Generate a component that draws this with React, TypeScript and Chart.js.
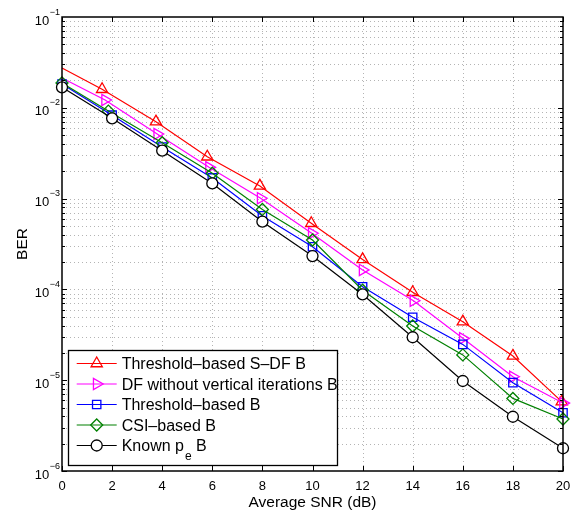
import React, { useEffect, useRef } from "react";
import { Chart, registerables } from "chart.js";

Chart.register(...registerables);

// ---- data ----
const snrRed = [0, 1.6, 3.75, 5.8, 7.9, 9.95, 12, 14, 16, 18, 19.95];
const berRed = [0.0274, 0.016, 0.00703, 0.00289, 0.00138, 5.35e-4, 2.14e-4, 9.3e-5, 4.41e-5, 1.85e-5, 5.8e-6];

const snrPink = [0, 1.72, 3.8, 5.87, 7.93, 9.97, 12, 14.03, 16, 18, 20];
const berPink = [0.0213, 0.0122, 0.00514, 0.00221, 0.00101, 4.15e-4, 1.64e-4, 7.5e-5, 2.89e-5, 1.09e-5, 5.6e-6];

const snrBlue = [0, 2, 4, 6, 8, 10, 12, 14, 16, 18, 20];
const berBlue = [0.0183, 0.0083, 0.0037, 0.00169, 6.45e-4, 2.95e-4, 1.07e-4, 4.93e-5, 2.48e-5, 9.4e-6, 4.38e-6];

const snrGreen = [0, 1.85, 4, 6, 8, 10, 12, 14, 16, 18, 20];
const berGreen = [0.0188, 0.0092, 0.00413, 0.0019, 7.6e-4, 3.5e-4, 9.8e-5, 3.95e-5, 1.9e-5, 6.3e-6, 3.74e-6];

const snrBlack = [0, 2, 4, 6, 8, 10, 12, 14, 16, 18, 20];
const berBlack = [0.0168, 7.65e-3, 3.37e-3, 1.47e-3, 5.57e-4, 2.33e-4, 8.8e-5, 2.97e-5, 9.8e-6, 3.96e-6, 1.78e-6];

const seriesNames = [
  "Threshold\u2013based S\u2013DF B",
  "DF without vertical iterations B",
  "Threshold\u2013based B",
  "CSI\u2013based B",
  "Known p_e B",
];

const xTickValues = [0, 2, 4, 6, 8, 10, 12, 14, 16, 18, 20];
const xTickLabels = ["0", "2", "4", "6", "8", "10", "12", "14", "16", "18", "20"];
const yTickValues = [1e-1, 1e-2, 1e-3, 1e-4, 1e-5, 1e-6];
const yTickExponents = ["\u22121", "\u22122", "\u22123", "\u22124", "\u22125", "\u22126"];

const xTitle = "Average SNR (dB)";
const yTitle = "BER";

const FONT = '"Liberation Sans", Arial, Helvetica, sans-serif';

type Style = {
  color: string;
  pointStyle: string;
  radius: number;
  rotation: number;
  fill: string;
};

const styles: Style[] = [
  { color: "#ff0000", pointStyle: "triangle", radius: 6.5, rotation: 0, fill: "rgba(0,0,0,0)" },
  { color: "#ff00ff", pointStyle: "triangle", radius: 6.5, rotation: 90, fill: "rgba(0,0,0,0)" },
  { color: "#0000ff", pointStyle: "rect", radius: 5.9, rotation: 0, fill: "rgba(0,0,0,0)" },
  { color: "#008000", pointStyle: "rectRot", radius: 6, rotation: 0, fill: "rgba(0,0,0,0)" },
  { color: "#000000", pointStyle: "circle", radius: 5.5, rotation: 0, fill: "#ffffff" },
];

function drawMarker(ctx: CanvasRenderingContext2D, s: Style, x: number, y: number) {
  const r = s.radius;
  ctx.save();
  ctx.strokeStyle = s.color;
  ctx.fillStyle = s.fill;
  ctx.lineWidth = 1.3;
  ctx.setLineDash([]);
  ctx.beginPath();
  if (s.pointStyle === "circle") {
    ctx.arc(x, y, r, 0, Math.PI * 2);
  } else if (s.pointStyle === "triangle") {
    let rad = (s.rotation * Math.PI) / 180;
    ctx.moveTo(x + Math.sin(rad) * r, y - Math.cos(rad) * r);
    rad += (2 * Math.PI) / 3;
    ctx.lineTo(x + Math.sin(rad) * r, y - Math.cos(rad) * r);
    rad += (2 * Math.PI) / 3;
    ctx.lineTo(x + Math.sin(rad) * r, y - Math.cos(rad) * r);
    ctx.closePath();
  } else if (s.pointStyle === "rect") {
    const h = r * Math.SQRT1_2;
    ctx.rect(x - h, y - h, 2 * h, 2 * h);
  } else if (s.pointStyle === "rectRot") {
    ctx.moveTo(x - r, y);
    ctx.lineTo(x, y - r);
    ctx.lineTo(x + r, y);
    ctx.lineTo(x, y + r);
    ctx.closePath();
  }
  ctx.fill();
  ctx.stroke();
  ctx.restore();
}

const decorPlugin = {
  id: "matlabDecor",
  beforeDatasetsDraw(chart: any) {
    const { ctx, chartArea } = chart;
    const xs = chart.scales.x;
    const ys = chart.scales.y;
    const { left, right, top, bottom } = chartArea;
    ctx.save();
    ctx.strokeStyle = "#b4b4b4";
    ctx.lineWidth = 1;
    ctx.setLineDash([1, 3]);
    for (const v of xTickValues) {
      if (v <= 0 || v >= 20) continue;
      const px = Math.round(xs.getPixelForValue(v)) + 0.5;
      ctx.beginPath();
      ctx.moveTo(px, top);
      ctx.lineTo(px, bottom);
      ctx.stroke();
    }
    for (let d = -6; d < -1; d++) {
      for (let k = 1; k <= 9; k++) {
        const v = k * Math.pow(10, d);
        if (d === -6 && k === 1) continue;
        const py = Math.round(ys.getPixelForValue(v)) + 0.5;
        ctx.beginPath();
        ctx.moveTo(left, py);
        ctx.lineTo(right, py);
        ctx.stroke();
      }
    }
    ctx.restore();
  },
  afterDraw(chart: any) {
    const { ctx, chartArea } = chart;
    const xs = chart.scales.x;
    const ys = chart.scales.y;
    const { left, right, top, bottom } = chartArea;
    ctx.save();
    ctx.setLineDash([]);
    ctx.strokeStyle = "#000";
    ctx.lineWidth = 1;
    // ticks
    ctx.beginPath();
    for (const v of xTickValues) {
      const px = Math.round(xs.getPixelForValue(v)) + 0.5;
      ctx.moveTo(px, bottom);
      ctx.lineTo(px, bottom - 5);
      ctx.moveTo(px, top);
      ctx.lineTo(px, top + 5);
    }
    for (let d = -6; d < -1; d++) {
      for (let k = 1; k <= 9; k++) {
        const v = k * Math.pow(10, d);
        const py = Math.round(ys.getPixelForValue(v)) + 0.5;
        const len = k === 1 ? 5 : 3;
        ctx.moveTo(left, py);
        ctx.lineTo(left + len, py);
        ctx.moveTo(right, py);
        ctx.lineTo(right - len, py);
      }
    }
    ctx.stroke();
    // box
    ctx.lineWidth = 1.5;
    ctx.strokeRect(left, top, right - left, bottom - top);

    // x tick labels
    ctx.fillStyle = "#000";
    ctx.font = `13px ${FONT}`;
    ctx.textAlign = "center";
    ctx.textBaseline = "alphabetic";
    xTickValues.forEach((v, i) => {
      ctx.fillText(xTickLabels[i], xs.getPixelForValue(v), bottom + 19);
    });

    // y tick labels
    yTickValues.forEach((v, i) => {
      const py = ys.getPixelForValue(v);
      ctx.font = `9px ${FONT}`;
      const ew = ctx.measureText(yTickExponents[i]).width;
      const ex = left - 2 - ew;
      ctx.textAlign = "left";
      ctx.fillText(yTickExponents[i], ex, py - 2.5);
      ctx.font = `13px ${FONT}`;
      ctx.textAlign = "right";
      ctx.fillText("10", ex - 0.5, py + 7.5);
    });

    // axis titles
    ctx.font = `15.5px ${FONT}`;
    ctx.textAlign = "center";
    ctx.fillText(xTitle, (left + right) / 2, 507);
    ctx.save();
    ctx.translate(27, (top + bottom) / 2);
    ctx.rotate(-Math.PI / 2);
    ctx.fillText(yTitle, 0, 0);
    ctx.restore();

    // legend
    const lx0 = 68.5, lx1 = 337.5, ly0 = 350.5, ly1 = 465.5;
    ctx.fillStyle = "#fff";
    ctx.fillRect(lx0, ly0, lx1 - lx0, ly1 - ly0);
    ctx.strokeStyle = "#000";
    ctx.lineWidth = 1.3;
    ctx.strokeRect(lx0, ly0, lx1 - lx0, ly1 - ly0);
    const rowY = [363.5, 384, 404.5, 425, 445.5];
    seriesNames.forEach((name, i) => {
      const s = styles[i];
      const cy = rowY[i];
      ctx.strokeStyle = s.color;
      ctx.lineWidth = 1.2;
      ctx.beginPath();
      ctx.moveTo(76.7, cy);
      ctx.lineTo(116.7, cy);
      ctx.stroke();
      drawMarker(ctx, s, 96.7, cy);
      ctx.fillStyle = "#000";
      ctx.textAlign = "left";
      ctx.font = `16px ${FONT}`;
      const base = cy + 5.7;
      const us = name.indexOf("_");
      if (us < 0) {
        ctx.fillText(name, 121.7, base);
      } else {
        const pre = name.slice(0, us);
        const sub = name.slice(us + 1, us + 2);
        const post = name.slice(us + 2);
        let x = 121.7;
        ctx.fillText(pre, x, base);
        x += ctx.measureText(pre).width + 1;
        ctx.font = `12px ${FONT}`;
        ctx.fillText(sub, x, base + 8.5);
        x += ctx.measureText(sub).width;
        ctx.font = `16px ${FONT}`;
        ctx.fillText(post, x, base);
      }
    });
    ctx.restore();
  },
};

function makeDataset(xv: number[], yv: number[], i: number, hideFirst: boolean) {
  const s = styles[i];
  return {
    label: seriesNames[i],
    data: xv.map((x, k) => ({ x, y: yv[k] })),
    borderColor: s.color,
    backgroundColor: s.color,
    borderWidth: 1.2,
    pointStyle: s.pointStyle,
    pointRadius: (c: any) => (hideFirst && c.dataIndex === 0 ? 0 : s.radius),
    pointHoverRadius: (c: any) => (hideFirst && c.dataIndex === 0 ? 0 : s.radius),
    pointBorderColor: s.color,
    pointBackgroundColor: s.fill,
    pointBorderWidth: 1.3,
    pointRotation: s.rotation,
    tension: 0,
    clip: false,
    order: 5 - i,
  };
}

export default function App() {
  const ref = useRef<HTMLCanvasElement | null>(null);
  useEffect(() => {
    if (!ref.current) return;
    const chart = new Chart(ref.current, {
      type: "line",
      data: {
        datasets: [
          makeDataset(snrRed, berRed, 0, true),
          makeDataset(snrPink, berPink, 1, true),
          makeDataset(snrBlue, berBlue, 2, false),
          makeDataset(snrGreen, berGreen, 3, false),
          makeDataset(snrBlack, berBlack, 4, false),
        ] as any,
      },
      options: {
        responsive: false,
        animation: false,
        events: [],
        layout: { padding: { top: 17, right: 8, left: 0, bottom: 0 } },
        scales: {
          x: {
            type: "linear",
            min: 0,
            max: 20,
            ticks: { display: false },
            grid: { display: false, drawTicks: false },
            border: { display: false },
            afterFit: (scale: any) => {
              scale.height = 42;
            },
          },
          y: {
            type: "logarithmic",
            min: 1e-6,
            max: 1e-1,
            ticks: { display: false },
            grid: { display: false, drawTicks: false },
            border: { display: false },
            afterFit: (scale: any) => {
              scale.width = 62;
            },
          },
        },
        plugins: {
          legend: { display: false },
          tooltip: { enabled: false },
        },
      } as any,
      plugins: [decorPlugin],
    });
    return () => chart.destroy();
  }, []);
  return (
    <div style={{ position: "absolute", left: 0, top: 0, width: 571, height: 513, background: "#fff" }}>
      <canvas ref={ref} width={571} height={513} style={{ display: "block", width: 571, height: 513 }} />
    </div>
  );
}
